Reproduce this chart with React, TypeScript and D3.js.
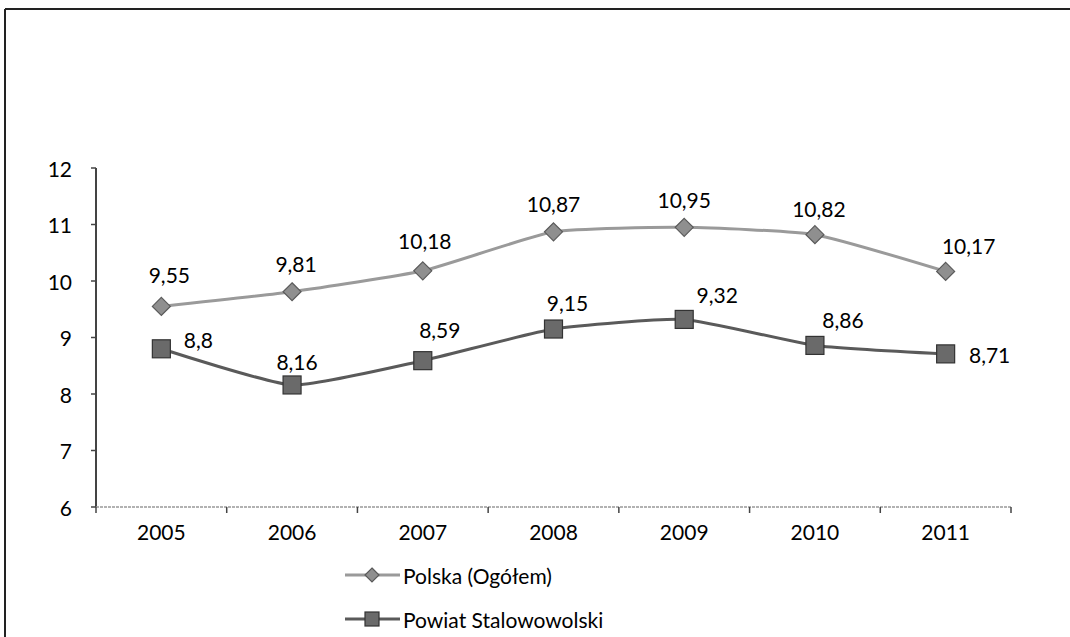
import React from "react";
import * as d3 from "d3";

const years = ["2005", "2006", "2007", "2008", "2009", "2010", "2011"];
const polska = [9.55, 9.81, 10.18, 10.87, 10.95, 10.82, 10.17];
const powiat = [8.8, 8.16, 8.59, 9.15, 9.32, 8.86, 8.71];
const yTicks = [6, 7, 8, 9, 10, 11, 12];
const seriesNames = ["Polska (Ogółem)", "Powiat Stalowowolski"];
// label offsets (dx, dy of label centre from point)
const polskaLabelDx = [8, 4, 2, 0, 0, 4, 23];
const polskaLabelDy = [-32, -28, -30, -28, -28, -26, -26];
const powiatLabelDx = [37, 5, 17, 14, 33, 28, 44];
const powiatLabelDy = [-9, -23, -31, -27, -25, -26, 1];

const W = 1070;
const H = 637;
const FONT = "Lato, 'Open Sans', sans-serif";

export default function App() {
  const x = d3.scaleBand<string>().domain(years).range([96, 1011]);
  const y = d3.scaleLinear().domain([6, 12]).range([507, 168]);
  const cx = (i: number) => (x(years[i]) as number) + x.bandwidth() / 2;
  const line = d3
    .line<number>()
    .x((_, i) => cx(i))
    .y((d) => y(d))
    .curve(d3.curveCardinal.tension(0.5));

  const boundaries = d3.range(years.length + 1).map((i) => 96 + i * x.bandwidth());
  const diamond = (px: number, py: number, r: number) =>
    `M${px},${py - r}L${px + r},${py}L${px},${py + r}L${px - r},${py}Z`;

  return (
    <svg
      width={W}
      height={H}
      style={{ position: "absolute", left: 0, top: 0, background: "#fff" }}
      fontFamily={FONT}
    >
      <rect x={0} y={0} width={W} height={H} fill="#fff" />
      {/* frame */}
      <line x1={5} y1={9} x2={1070} y2={9} stroke="#222" strokeWidth={2} />
      <line x1={5} y1={9} x2={5} y2={637} stroke="#222" strokeWidth={2} />

      {/* y axis */}
      <line x1={96} y1={168} x2={96} y2={507} stroke="#444" strokeWidth={2} />
      {yTicks.map((t) => (
        <g key={t}>
          <line x1={91} x2={96} y1={y(t)} y2={y(t)} stroke="#444" strokeWidth={1.5} />
          <text
            x={72}
            y={y(t)}
            textAnchor="end"
            dominantBaseline="central"
            fontSize={21}
            fill="#000"
          >
            {t}
          </text>
        </g>
      ))}

      {/* x axis */}
      <line x1={96} y1={507} x2={1011} y2={507} stroke="#999" strokeWidth={1.5} strokeDasharray="3 1" />
      {boundaries.map((b, i) => (
        <line key={i} x1={b} x2={b} y1={507} y2={513} stroke="#444" strokeWidth={1.5} />
      ))}
      {years.map((yr, i) => (
        <text
          key={yr}
          x={cx(i)}
          y={531}
          textAnchor="middle"
          dominantBaseline="central"
          fontSize={21}
          fill="#000"
        >
          {yr}
        </text>
      ))}

      {/* Polska series */}
      <path d={line(polska) || ""} fill="none" stroke="#9a9a9a" strokeWidth={3} />
      {polska.map((v, i) => (
        <path
          key={i}
          d={diamond(cx(i), y(v), 9)}
          fill="#8f8f8f"
          stroke="#5a5a5a"
          strokeWidth={1.2}
        />
      ))}
      {polska.map((v, i) => (
        <text
          key={i}
          x={cx(i) + polskaLabelDx[i]}
          y={y(v) + polskaLabelDy[i]}
          textAnchor="middle"
          dominantBaseline="central"
          fontSize={21}
          fill="#000"
        >
          {String(v).replace(".", ",")}
        </text>
      ))}

      {/* Powiat series */}
      <path d={line(powiat) || ""} fill="none" stroke="#5a5a5a" strokeWidth={3} />
      {powiat.map((v, i) => (
        <rect
          key={i}
          x={cx(i) - 9}
          y={y(v) - 9}
          width={18}
          height={18}
          fill="#6a6a6a"
          stroke="#333"
          strokeWidth={1.2}
        />
      ))}
      {powiat.map((v, i) => (
        <text
          key={i}
          x={cx(i) + powiatLabelDx[i]}
          y={y(v) + powiatLabelDy[i]}
          textAnchor="middle"
          dominantBaseline="central"
          fontSize={21}
          fill="#000"
        >
          {String(v).replace(".", ",")}
        </text>
      ))}

      {/* legend */}
      <g>
        <line x1={345} x2={400} y1={575} y2={575} stroke="#9a9a9a" strokeWidth={3} />
        <path d={diamond(372, 575, 7)} fill="#8f8f8f" stroke="#5a5a5a" strokeWidth={1.2} />
        <text x={403} y={575} dominantBaseline="central" fontSize={21} fill="#000">
          {seriesNames[0]}
        </text>
        <line x1={345} x2={400} y1={619} y2={619} stroke="#5a5a5a" strokeWidth={3} />
        <rect x={365} y={612} width={14} height={14} fill="#6a6a6a" stroke="#333" strokeWidth={1.2} />
        <text x={403} y={619} dominantBaseline="central" fontSize={21} fill="#000">
          {seriesNames[1]}
        </text>
      </g>
    </svg>
  );
}
